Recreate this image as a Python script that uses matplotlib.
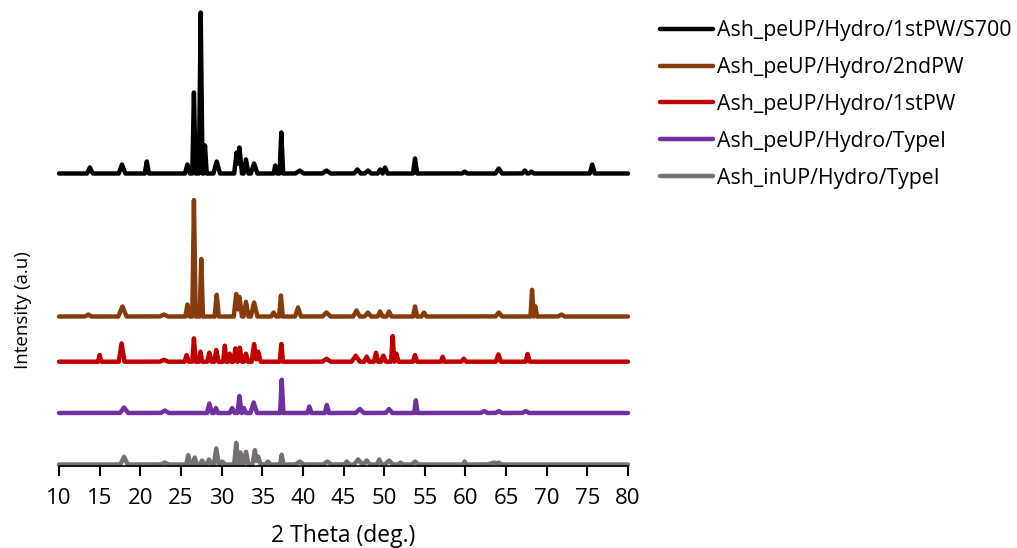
import matplotlib.pyplot as plt
import numpy as np

plt.rcParams['font.family'] = ['Open Sans', 'DejaVu Sans']

# peak lists: 2theta position, height (a.u.), half base width
s700_pos = [13.8, 17.75, 20.8, 25.8, 26.6, 27.43, 27.96, 29.4, 31.85, 32.2, 33.0, 34.0,
            36.6, 37.35, 39.6, 42.9, 46.7, 48.0, 49.5, 50.1, 53.8, 59.9, 64.1, 67.3, 68.1, 75.6]
s700_h = [6, 9, 12, 9, 81, 161, 28, 12, 21, 26, 14, 10,
          8, 41, 3, 3, 4, 3, 4, 6, 15, 2, 5, 3, 2, 9]
s700_w = [0.35, 0.4, 0.25, 0.3, 0.2, 0.22, 0.2, 0.4, 0.3, 0.3, 0.3, 0.4,
          0.2, 0.22, 0.5, 0.5, 0.4, 0.4, 0.3, 0.3, 0.25, 0.3, 0.4, 0.3, 0.3, 0.3]

pw2_pos = [13.6, 17.8, 22.9, 25.8, 26.6, 27.5, 29.4, 31.8, 32.2, 33.0, 34.0, 36.4, 37.3,
           39.4, 42.9, 46.6, 48.0, 49.5, 50.6, 53.8, 54.9, 64.1, 68.2, 68.6, 71.8]
pw2_h = [2, 10, 2, 12, 116.5, 57.5, 21.7, 22.5, 19.5, 14.7, 14, 4, 21,
         9, 4, 6, 4, 5, 5, 10, 4, 4, 26.7, 10, 2]
pw2_w = [0.4, 0.5, 0.5, 0.25, 0.2, 0.2, 0.25, 0.3, 0.3, 0.3, 0.4, 0.3, 0.22,
         0.35, 0.5, 0.4, 0.4, 0.3, 0.3, 0.25, 0.3, 0.4, 0.2, 0.2, 0.4]

pw1_pos = [15.0, 17.7, 22.9, 25.7, 26.6, 27.4, 28.5, 29.35, 30.4, 31.0, 31.7, 32.25, 33.0,
           34.0, 34.5, 37.35, 42.9, 46.5, 47.85, 49.0, 49.9, 51.05, 51.5, 53.8, 57.2,
           59.8, 64.05, 67.65]
pw1_h = [6.7, 18.3, 2, 6.7, 23.3, 10, 9, 11.7, 16, 8, 13.3, 14, 8,
         17.7, 10, 17.7, 3, 6, 5, 9, 6, 25.7, 8, 6.7, 5,
         3, 7.3, 7.7]
pw1_w = [0.2, 0.35, 0.5, 0.25, 0.2, 0.2, 0.25, 0.25, 0.2, 0.2, 0.25, 0.25, 0.25,
         0.3, 0.3, 0.2, 0.5, 0.5, 0.3, 0.25, 0.3, 0.2, 0.25, 0.25, 0.2,
         0.3, 0.3, 0.25]

pe1_pos = [18.0, 23.0, 28.5, 29.3, 31.3, 32.2, 32.75, 33.95, 37.4, 40.8, 42.95,
           47.0, 50.6, 53.9, 62.3, 64.1, 67.4]
pe1_h = [5.5, 2.5, 9.5, 5, 5, 17, 5, 10.5, 33.3, 6.5, 8,
         4, 4, 12.7, 2, 2, 2]
pe1_w = [0.5, 0.5, 0.3, 0.25, 0.3, 0.25, 0.25, 0.4, 0.2, 0.25, 0.25,
         0.5, 0.4, 0.2, 0.4, 0.4, 0.4]

in1_pos = [18.0, 23.0, 25.9, 26.7, 27.6, 28.45, 29.35, 30.1, 31.8, 32.3, 33.0, 34.1,
           34.5, 35.7, 37.4, 39.6, 43.0, 45.4, 46.8, 47.85, 49.4, 50.6, 52.0, 53.8,
           59.9, 63.5, 64.1]
in1_h = [7.7, 2, 9.3, 7, 4, 5, 16, 3, 21.7, 12, 12.7, 14.3,
         8, 3, 9.7, 3, 3, 3, 5, 4, 5, 4, 2, 3,
         3, 2, 2]
in1_w = [0.45, 0.5, 0.25, 0.25, 0.25, 0.3, 0.3, 0.3, 0.25, 0.25, 0.3, 0.3,
         0.3, 0.3, 0.2, 0.5, 0.5, 0.3, 0.5, 0.4, 0.3, 0.5, 0.3, 0.4,
         0.2, 0.8, 0.3]

labels = ['Ash_peUP/Hydro/1stPW/S700', 'Ash_peUP/Hydro/2ndPW', 'Ash_peUP/Hydro/1stPW',
          'Ash_peUP/Hydro/TypeI', 'Ash_inUP/Hydro/TypeI']
offsets = [292.5, 149.5, 104.3, 53, 1.5]
colors = ['#000000', '#843C0C', '#C00000', '#7030A0', '#767171']
series = [(s700_pos, s700_h, s700_w), (pw2_pos, pw2_h, pw2_w), (pw1_pos, pw1_h, pw1_w),
          (pe1_pos, pe1_h, pe1_w), (in1_pos, in1_h, in1_w)]


def trace(pos, h, w):
    # sharp peaks drawn as narrow spikes on a flat baseline
    xs = np.linspace(10, 80, 7001)
    ys = np.zeros_like(xs)
    for p, hh, ww in zip(pos, h, w):
        ys = np.maximum(ys, hh * np.clip(1 - np.abs(xs - p) / ww, 0, None))
    return xs, ys


fig = plt.figure(figsize=(10.17, 5.48), dpi=100)
ax = fig.add_axes([59 / 1017, 82 / 548, 569 / 1017, 455 / 548])

for (pos, h, w), off, c, lab in zip(series, offsets, colors, labels):
    xs, ys = trace(pos, h, w)
    ax.plot(xs, ys + off, color=c, lw=3.2, label=lab, clip_on=False,
            solid_joinstyle='round', solid_capstyle='round')

ax.set_xlim(10, 80)
ax.set_ylim(0, 455)
ax.set_xticks(np.arange(10, 81, 5))
ax.set_yticks([])
for s in ['top', 'right', 'left']:
    ax.spines[s].set_visible(False)
ax.spines['bottom'].set_linewidth(1.2)
ax.tick_params(axis='x', direction='out', length=7, width=1.5, labelsize=16, pad=9)
ax.set_xlabel('2 Theta (deg.)', fontsize=16.5, labelpad=11)
ax.set_ylabel('Intensity (a.u)', fontsize=13.5)
ax.yaxis.set_label_coords(-0.047, 0.343)

fig.legend(loc='upper left', bbox_to_anchor=(660 / 1017, 1 - 20 / 548), frameon=False,
           fontsize=15.3, handlelength=2.5, handletextpad=0.2, labelspacing=0.75,
           borderpad=0, borderaxespad=0)

fig.savefig('out.png', dpi=100)
